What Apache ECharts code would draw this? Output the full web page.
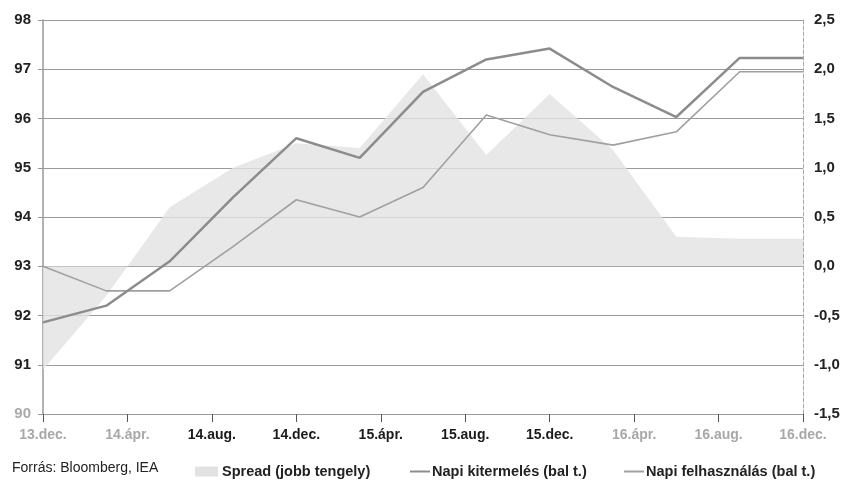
<!DOCTYPE html>
<html>
<head>
<meta charset="utf-8">
<script src="https://cdn.jsdelivr.net/npm/echarts@6/dist/echarts.min.js"></script>
<style>html,body{margin:0;padding:0;background:#fff;}#c{width:846px;height:481px;}</style>
</head>
<body>
<div id="c"></div>
<script>
// Monthly category axis (Dec 2013 - Dec 2016)
const months = ['13.dec.','14.jan.','14.febr.','14.márc.','14.ápr.','14.máj.','14.jún.','14.júl.','14.aug.','14.szept.','14.okt.','14.nov.','14.dec.',
  '15.jan.','15.febr.','15.márc.','15.ápr.','15.máj.','15.jún.','15.júl.','15.aug.','15.szept.','15.okt.','15.nov.','15.dec.',
  '16.jan.','16.febr.','16.márc.','16.ápr.','16.máj.','16.jún.','16.júl.','16.aug.','16.szept.','16.okt.','16.nov.','16.dec.'];
// Quarterly observation points
const quarters = ['13.dec.','14.márc.','14.jún.','14.szept.','14.dec.','15.márc.','15.jún.','15.szept.','15.dec.','16.márc.','16.jún.','16.szept.','16.dec.'];
const production  = [91.86, 92.2, 93.1, 94.4, 95.6, 95.2, 96.54, 97.2, 97.42, 96.64, 96.03, 97.23, 97.23];
const consumption = [93.0, 92.5, 92.5, 93.4, 94.35, 94.0, 94.6, 96.07, 95.67, 95.46, 95.73, 96.95, 96.95];
const spread      = [-1.05, -0.3, 0.6, 1.0, 1.25, 1.2, 1.95, 1.13, 1.75, 1.18, 0.3, 0.28, 0.28];
const lightLabels = ['13.dec.','14.ápr.','16.ápr.','16.aug.','16.dec.'];

const FONT = '"Liberation Sans", Arial, sans-serif';
const chart = echarts.init(document.getElementById('c'));
const pair = arr => quarters.map((q, i) => [q, arr[i]]);

chart.setOption({
  animation: false,
  backgroundColor: '#fff',
  textStyle: { fontFamily: FONT },
  grid: { left: 43, right: 43, top: 20, bottom: 67 },
  graphic: [{
    type: 'text', left: 12, top: 461,
    style: { text: 'Forrás: Bloomberg, IEA', font: '14px ' + FONT, fill: '#222' }
  }],
  legend: [
    { data: ['Spread (jobb tengely)'], left: 190, top: 459, icon: 'rect', itemWidth: 23, itemHeight: 10, itemGap: 4,
      textStyle: { fontFamily: FONT, fontSize: 14.5, fontWeight: 'bold', color: '#222', padding: [0,0,0,-1] } },
    { data: ['Napi kitermelés (bal t.)'], left: 405, top: 459, icon: 'rect', itemWidth: 20, itemHeight: 2,
      textStyle: { fontFamily: FONT, fontSize: 14.5, fontWeight: 'bold', color: '#222', padding: [0,0,0,-3] } },
    { data: ['Napi felhasználás (bal t.)'], left: 619, top: 459, icon: 'rect', itemWidth: 20, itemHeight: 2,
      textStyle: { fontFamily: FONT, fontSize: 14.5, fontWeight: 'bold', color: '#222', padding: [0,0,0,-3] } }
  ],
  xAxis: {
    type: 'category', data: months, boundaryGap: false,
    axisLine: { show: false, onZero: false },
    axisTick: { show: true, interval: 3, length: 8, lineStyle: { color: '#555' } },
    axisLabel: { interval: 3, margin: 14, fontSize: 14, fontWeight: 'bold', fontFamily: FONT,
      color: v => lightLabels.indexOf(v) >= 0 ? '#a8a8a8' : '#1a1a1a' },
    splitLine: { show: false }
  },
  yAxis: [
    { type: 'value', min: 90, max: 98, interval: 1, position: 'left',
      axisLine: { show: true, lineStyle: { color: '#999', width: 1.5 } },
      axisTick: { show: true, length: 5, lineStyle: { color: '#999' } },
      axisLabel: { margin: 12, fontSize: 15, fontWeight: 'bold', fontFamily: FONT,
        color: v => (+v === 90 ? '#aaa' : '#222') },
      splitLine: { show: true, lineStyle: { color: '#9a9a9a', width: 1.2 } }
    },
    { type: 'value', min: -1.5, max: 2.5, interval: 0.5, position: 'right',
      axisLine: { show: true, lineStyle: { color: '#aaa', type: 'dashed', width: 1 } },
      axisTick: { show: false },
      axisLabel: { margin: 11, fontSize: 15, fontWeight: 'bold', fontFamily: FONT, color: '#222',
        formatter: v => v.toFixed(1).replace('.', ',') },
      splitLine: { show: false }
    }
  ],
  series: [
    { name: 'Spread (jobb tengely)', type: 'line', yAxisIndex: 1, data: pair(spread),
      showSymbol: false, symbol: 'none', smooth: false,
      lineStyle: { width: 0, color: '#e2e2e2' },
      itemStyle: { color: '#e2e2e2' },
      areaStyle: { color: '#e2e2e2', opacity: 0.8 }, z: 1 },
    { name: 'Napi kitermelés (bal t.)', type: 'line', yAxisIndex: 0, data: pair(production),
      showSymbol: false, symbol: 'none',
      lineStyle: { width: 2.5, color: '#8c8c8c' }, itemStyle: { color: '#8c8c8c' }, z: 3 },
    { name: 'Napi felhasználás (bal t.)', type: 'line', yAxisIndex: 0, data: pair(consumption),
      showSymbol: false, symbol: 'none',
      lineStyle: { width: 1.6, color: '#a0a0a0' }, itemStyle: { color: '#a0a0a0' }, z: 2 }
  ]
});
</script>
</body>
</html>
